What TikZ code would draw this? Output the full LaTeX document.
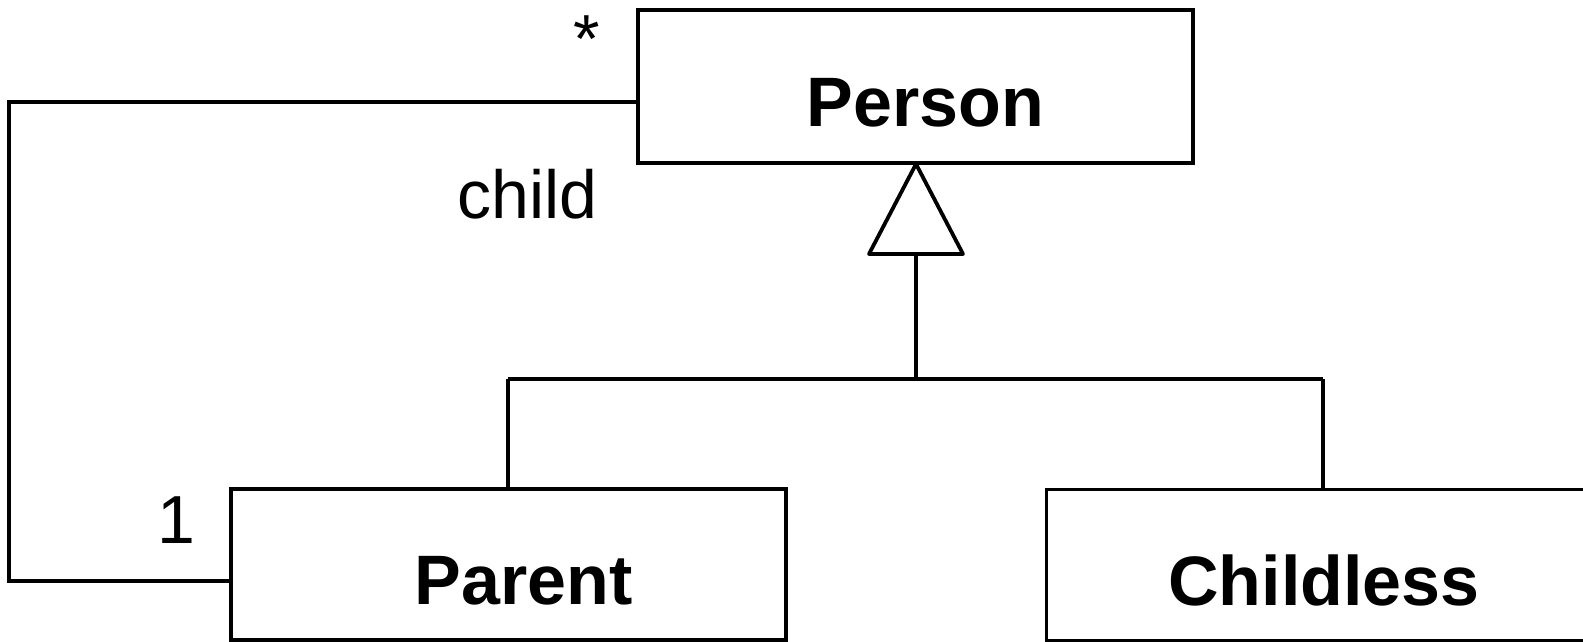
\documentclass[tikz,border=0pt]{standalone}
\usepackage{fontspec}
\setmainfont{Liberation Sans}
\begin{document}
\begin{tikzpicture}[x=1pt,y=-1pt,
  classbox/.style={draw=black, line width=3.8pt, fill=white, inner sep=0pt,
    minimum width=555pt, minimum height=151pt, text height=80pt, text depth=0pt,
    font=\bfseries\fontsize{70}{82}\selectfont},
  conn/.style={draw=black, line width=3.8pt, line join=miter},
  lbl/.style={inner sep=0pt, font=\fontsize{68}{80}\selectfont}]
\useasboundingbox (0,0) rectangle (1583,642);
\clip (0,0) rectangle (1583,642);
% classes
\node[classbox, minimum height=153pt] (person) at (915.5,86.5) {\hspace*{20pt}Person};
\node[classbox] (parent) at (508.5,564.5) {\hspace*{30pt}Parent};
\node[classbox] (childless) at (1324,565) {Childless};
% generalization
\coordinate (apex) at (916,164);
\coordinate (tribase) at (916,254);
\coordinate (junction) at (916,379);
\coordinate (pdrop) at (508,379);
\coordinate (cdrop) at (1323,379);
\draw[conn, line join=round] (apex) -- (869,254) -- (963,254) -- cycle;
\draw[conn] (tribase) -- (junction);
\draw[conn] (pdrop) -- (cdrop);
\draw[conn] (pdrop) -- (pdrop |- parent.north);
\draw[conn] (cdrop) -- (cdrop |- childless.north);
% association
\coordinate (lcorner) at (9,340);
\draw[conn] ([yshift=-15.5pt]person.west) -| (lcorner) |- ([yshift=-16.5pt]parent.west);
% labels
\node[lbl, anchor=base] (star) at (587,63) {*};
\node[lbl, anchor=base west] (child) at (457,218) {child};
\node[lbl, anchor=base] (one) at (176,543) {1};
\end{tikzpicture}
\end{document}
